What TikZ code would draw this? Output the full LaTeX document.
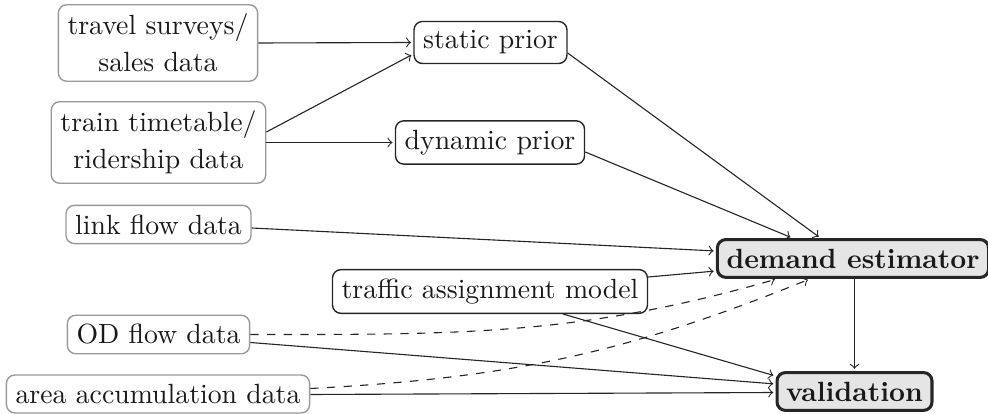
\documentclass[tikz,border=0pt]{standalone}
\usetikzlibrary{calc}
\begin{document}
\begin{tikzpicture}[x=0.36pt,y=-0.36pt,
  srcbox/.style={draw=black!40, rounded corners=3pt, align=center,
                 inner sep=3.3pt, line width=0.5pt, text=black!90},
  midbox/.style={draw=black!85, rounded corners=3pt, inner sep=3.3pt,
                 line width=0.5pt, text=black!90},
  corebox/.style={draw=black!85, fill=black!10, rounded corners=3pt,
                  line width=1.1pt, inner sep=3.3pt, font=\bfseries, text=black!90},
  flow/.style={->, line width=0.4pt, draw=black!85, shorten >=0.8pt},
  weak/.style={flow, dashed}]

\useasboundingbox (0,0) rectangle (988,414);

% data sources
\node[srcbox] (travel) at (158,43)    {travel surveys/\\[1.3pt]sales data};
\node[srcbox] (train)  at (158.5,142.5) {train timetable/\\[1.3pt]ridership data};
\node[srcbox] (link)   at (158.5,224.5) {link flow data};
\node[srcbox] (od)     at (158.5,334.5) {OD flow data};
\node[srcbox] (area)   at (158,394)   {area accumulation data};

% priors and model
\node[midbox] (static)  at (490.5,42.5) {static prior};
\node[midbox] (dynamic) at (490,142.5)  {dynamic prior};
\node[midbox] (traffic) at (490,291.5)  {traffic assignment model};

% estimation and validation
\node[corebox] (demand)     at (853,258.5)   {demand estimator};
\node[corebox] (validation) at (854.5,391.5) {validation};

% priors
\draw[flow] (travel.east) -- (static.west);
\draw[flow] ($(train.east)+(0,-10.5)$) -- ($(static.west)+(0,11.5)$);
\draw[flow] (train.east) -- (dynamic.west);

% inputs to the estimator
\draw[flow] ($(static.east)+(0,10.5)$)  -- ($(demand.north)+(-32.5,0)$);
\draw[flow] ($(dynamic.east)+(0,9.5)$)  -- ($(demand.north)+(-60.5,0)$);
\draw[flow] ($(link.east)+(0,3.5)$)     -- ($(demand.west)+(0,-7.5)$);
\draw[flow] ($(traffic.east)+(0,-14.5)$) -- ($(demand.west)+(0,12.5)$);
\draw[weak] (od.east) to[out=0, in=196]  ($(demand.south)+(-76,0)$);
\draw[weak] ($(area.east)+(0,-5.5)$) to[out=3, in=202] ($(demand.south)+(-43,0)$);

% inputs to the validation
\draw[flow] (demand.south -| validation.north) -- (validation.north);
\draw[flow] ($(traffic.south)+(73,0)$)  -- ($(validation.west)+(0,-15.5)$);
\draw[flow] ($(od.east)+(0,8)$)         -- ($(validation.west)+(0,-7.5)$);
\draw[flow] ($(area.east)+(0,0.5)$)     -- ($(validation.west)+(0,1)$);

\end{tikzpicture}
\end{document}
